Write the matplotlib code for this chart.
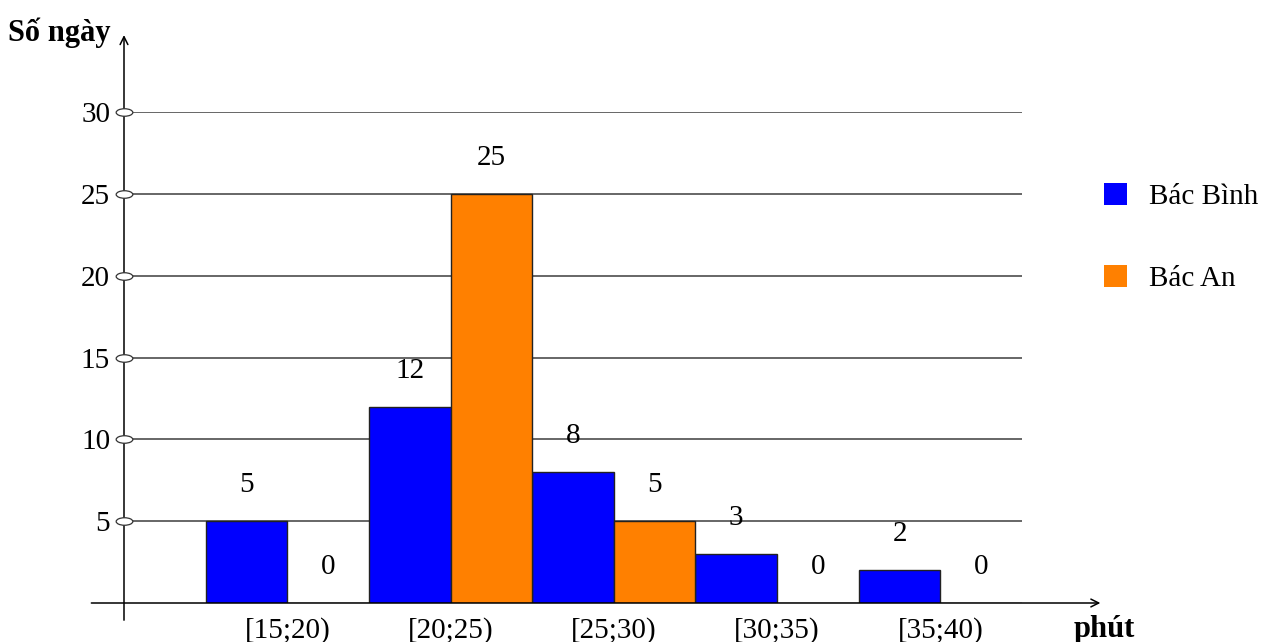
import matplotlib
matplotlib.use("Agg")
import matplotlib.pyplot as plt
import numpy as np
from matplotlib.patches import Patch
from matplotlib.path import Path
from matplotlib.transforms import Affine2D

# Data
categories = ["[15;20)", "[20;25)", "[25;30)", "[30;35)", "[35;40)"]
bac_binh = [5, 12, 8, 3, 2]
bac_an = [0, 25, 5, 0, 0]
y_ticks = [5, 10, 15, 20, 25, 30]

plt.rcParams["font.family"] = ["Liberation Serif", "DejaVu Serif"]

W, H = 1270, 642
fig = plt.figure(figsize=(W / 100, H / 100), dpi=100)
fig.patch.set_facecolor("white")

# axes frame: y axis at x = -1, grid ends at 4.5, baseline at 0, top tick at 30
left, right, bottom, top = 124, 1022, 603, 112
ax = fig.add_axes([left / W, (H - bottom) / H, (right - left) / W, (bottom - top) / H])
ax.set_xlim(-1, 4.5)
ax.set_ylim(0, 30)
for s in ax.spines.values():
    s.set_visible(False)

blue = "#0000FF"
orange = "#FF8000"
x = np.arange(len(categories))
w = 0.5
fs = 21

ax.set_axisbelow(True)
ax.yaxis.grid(True, color="#4d4d4d", linewidth=1.2)
ax.set_yticks(y_ticks)
ax.set_yticklabels([str(t) for t in y_ticks], fontsize=fs)
ax.tick_params(axis="y", length=0, pad=10)

ax.set_xticks(x)
ax.set_xticklabels(categories, fontsize=fs)
ax.tick_params(axis="x", length=0, pad=10)

ax.bar(x - w / 2, bac_binh, width=w, color=blue, edgecolor="#222222", linewidth=1, zorder=3)
ax.bar(x + w / 2, bac_an, width=w, color=orange, edgecolor="#222222", linewidth=1, zorder=3)

for xi, v in zip(x, bac_binh):
    ax.text(xi - w / 2, v + 2.2, str(v), ha="center", va="center", fontsize=fs, clip_on=False)
for xi, v in zip(x, bac_an):
    ax.text(xi + w / 2, v + 2.2, str(v), ha="center", va="center", fontsize=fs, clip_on=False)

# axes arrows
arrow = dict(arrowstyle="->", color="black", lw=1.1, shrinkA=0, shrinkB=0, mutation_scale=14)
ax.annotate("", xy=(4.98, 0), xytext=(-1.2, 0), arrowprops=arrow, annotation_clip=False)
ax.annotate("", xy=(-1, 34.7), xytext=(-1, -1.05), arrowprops=arrow, annotation_clip=False)

# small oval tick markers on the y axis
circ = Path.unit_circle()
oval = circ.transformed(Affine2D().scale(1.0, 0.45))
ax.plot([-1] * len(y_ticks), y_ticks, linestyle="none", marker=oval, markersize=12,
        markerfacecolor="white", markeredgecolor="#333333", markeredgewidth=0.9,
        clip_on=False, zorder=5)

# axis titles
fig.text(8 / W, 1 - 33 / H, "Số ngày", fontsize=22, fontweight="bold", ha="left", va="center")
fig.text(1104 / W, 1 - 630 / H, "phút", fontsize=22, fontweight="bold", ha="center", va="center")

# legend
handles = [Patch(facecolor=blue, edgecolor="none"), Patch(facecolor=orange, edgecolor="none")]
fig.legend(handles, ["Bác Bình", "Bác An"], loc="upper left",
           bbox_to_anchor=(1104 / W, 1 - 183 / H), frameon=False, fontsize=fs,
           handlelength=0.8, handleheight=0.8, handletextpad=0.75,
           labelspacing=1.87, borderpad=0, borderaxespad=0)

fig.savefig("out.png", dpi=100, facecolor="white")
